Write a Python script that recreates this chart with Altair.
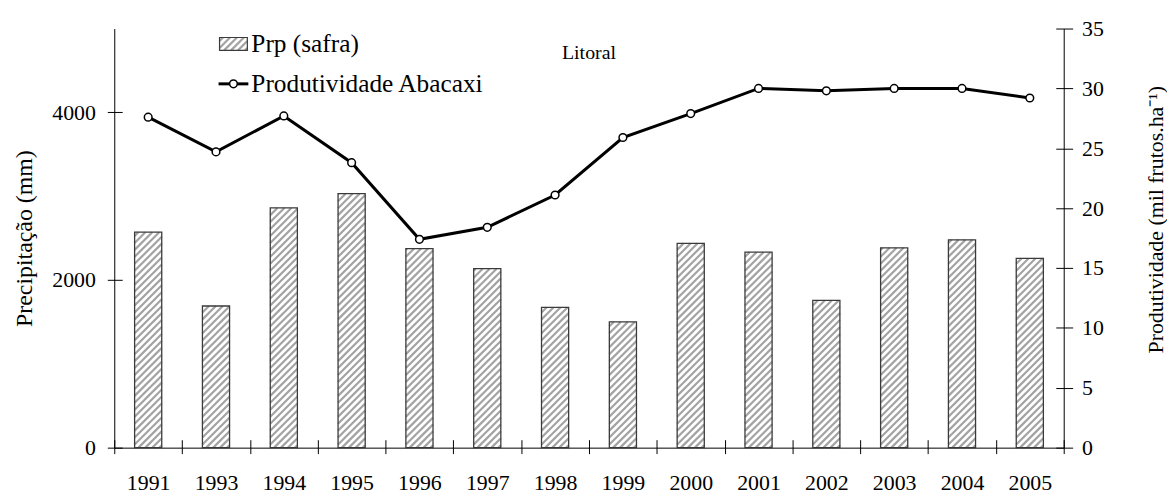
import altair as alt
import numpy as np
import pandas as pd

# ---------------- data ----------------
years = ["1991", "1993", "1994", "1995", "1996", "1997", "1998",
         "1999", "2000", "2001", "2002", "2003", "2004", "2005"]
prp = [2570, 1690, 2860, 3030, 2375, 2135, 1673,
       1500, 2438, 2332, 1756, 2384, 2479, 2257]
produtividade = [27.6, 24.7, 27.7, 23.8, 17.4, 18.4, 21.1,
                 25.9, 27.9, 30.0, 29.8, 30.0, 30.0, 29.2]

chart_title = "Litoral"
legend_labels = ["Prp (safra)", "Produtividade Abacaxi"]
left_title = "Precipitação (mm)"
right_title = "Produtividade (mil frutos.ha⁻¹)"
left_ticks = [0, 2000, 4000]
right_ticks = [0, 5, 10, 15, 20, 25, 30, 35]

# ---------------- style ----------------
FONT = "Liberation Serif"
W, H = 956, 422
PRP_MAX, PROD_MAX = 5000, 35
N = len(years)
BAR_HALF = 0.2
KX = W / N
KY = H / PRP_MAX
STRIPE_PERIOD = 7.0
STRIPE_COLOR = "#a3a3a3"
STRIPE_WIDTH = 2.2
BAR_STROKE = "#3a3a3a"
TICK_FS = 22
TITLE_FS = 24
LEGEND_FS = 25.5


def stripes(w, h, period):
    """diagonal '/' hatch segments inside a w x h box (y upward)"""
    segs = []
    c = -w + period * 0.35
    while c < h:
        xa = max(0.0, -c)
        xb = min(w, h - c)
        if xb - xa > 0.3:
            segs.append((xa, xa + c, xb, xb + c))
        c += period
    return segs


df = pd.DataFrame({"year": years, "prp": prp, "prod": produtividade})
df["xc"] = np.arange(N) + 0.5
df["x0"] = df["xc"] - BAR_HALF
df["x1"] = df["xc"] + BAR_HALF

rows = []
for x0, v in zip(df["x0"], df["prp"]):
    for a, b, c_, d in stripes(2 * BAR_HALF * KX, v * KY, STRIPE_PERIOD):
        rows.append({"sx0": x0 + a / KX, "sy0": b / KY,
                     "sx1": x0 + c_ / KX, "sy1": d / KY})
stripe_df = pd.DataFrame(rows)

# legend swatch (plot pixel coords -> data units)
SW_X, SW_Y, SW_W, SW_H = 106, 9, 28, 13
lrows = []
for a, b, c_, d in stripes(SW_W, SW_H, STRIPE_PERIOD):
    lrows.append({"sx0": (SW_X + a) / KX, "sy0": (H - (SW_Y + SW_H - b)) / KY,
                  "sx1": (SW_X + c_) / KX, "sy1": (H - (SW_Y + SW_H - d)) / KY})
legend_stripe_df = pd.DataFrame(lrows)

one = pd.DataFrame({"k": [0]})

x_scale = alt.Scale(domain=[0, N], nice=False, zero=False)
y_left = alt.Scale(domain=[0, PRP_MAX], nice=False)
y_right = alt.Scale(domain=[0, PROD_MAX], nice=False)

label_expr = "[" + ",".join(f"'{y}'" for y in years) + "][floor(datum.value)]"

x_label_axis = alt.Axis(orient="bottom", values=list(df["xc"]), labelExpr=label_expr,
                        ticks=False, domain=True, domainColor="black", domainWidth=1,
                        grid=False, labelFont=FONT, labelFontSize=TICK_FS,
                        labelColor="black", labelPadding=25, labelOverlap=False,
                        labelFlush=False, title=None)
x_tick_axis = alt.Axis(orient="bottom", values=list(range(N + 1)), labels=False,
                       domain=False, ticks=True, tickSize=14, tickColor="black",
                       tickWidth=1, offset=-8, grid=False, title=None)

y_left_axis = alt.Axis(orient="left", values=left_ticks, format="d", ticks=False,
                       domain=True, domainColor="black", domainWidth=1, grid=False,
                       labelFont=FONT, labelFontSize=TICK_FS, labelColor="black",
                       labelPadding=19, title=left_title, titleFont=FONT,
                       titleFontSize=TITLE_FS, titleFontWeight="normal",
                       titleColor="black", titleAngle=270, titleBaseline="alphabetic",
                       titleAlign="center", titleX=-83, titleY=H / 2)
y_left_tick_axis = alt.Axis(orient="left", values=left_ticks, labels=False,
                            domain=False, ticks=True, tickSize=15, tickColor="black",
                            tickWidth=1, offset=-8, grid=False, title=None)

y_right_axis = alt.Axis(orient="right", values=right_ticks, format="d", ticks=False,
                        domain=True, domainColor="black", domainWidth=1, grid=False,
                        labelFont=FONT, labelFontSize=TICK_FS, labelColor="black",
                        labelPadding=18, title=right_title, titleFont=FONT,
                        titleFontSize=TITLE_FS - 2, titleFontWeight="normal",
                        titleColor="black", titleAngle=270, titleBaseline="alphabetic",
                        titleAlign="center", titleX=99, titleY=192)
y_right_tick_axis = alt.Axis(orient="right", values=right_ticks, labels=False,
                             domain=False, ticks=True, tickSize=17, tickColor="black",
                             tickWidth=1, offset=-8, grid=False, title=None)

base = alt.Chart(df)

bars = base.mark_rect(fill="white", strokeWidth=0).encode(
    x=alt.X("x0:Q", scale=x_scale, axis=x_label_axis),
    x2="x1:Q",
    y=alt.Y("prp:Q", scale=y_left, axis=y_left_axis),
    y2=alt.datum(0),
)

hatch = alt.Chart(stripe_df).mark_rule(color=STRIPE_COLOR, strokeWidth=STRIPE_WIDTH).encode(
    x=alt.X("sx0:Q", scale=x_scale, axis=None),
    x2="sx1:Q",
    y=alt.Y("sy0:Q", scale=y_left, axis=None),
    y2="sy1:Q",
)

outline = base.mark_rect(fillOpacity=0, stroke=BAR_STROKE, strokeWidth=1.3).encode(
    x=alt.X("x0:Q", scale=x_scale, axis=None),
    x2="x1:Q",
    y=alt.Y("prp:Q", scale=y_left, axis=None),
    y2=alt.datum(0),
)

left_ticks_layer = base.mark_point(opacity=0).encode(
    x=alt.X("xc:Q", scale=x_scale, axis=x_tick_axis),
    y=alt.Y("prp:Q", scale=y_left, axis=y_left_tick_axis),
)

line = base.mark_line(color="black", strokeWidth=3).encode(
    x=alt.X("xc:Q", scale=x_scale, axis=None),
    y=alt.Y("prod:Q", scale=y_right, axis=y_right_axis),
)

points = base.mark_point(filled=True, fill="white", stroke="black", strokeWidth=1.5,
                         size=60, opacity=1).encode(
    x=alt.X("xc:Q", scale=x_scale, axis=None),
    y=alt.Y("prod:Q", scale=y_right, axis=None),
)

right_ticks_layer = base.mark_point(opacity=0).encode(
    x=alt.X("xc:Q", scale=x_scale, axis=None),
    y=alt.Y("prod:Q", scale=y_right, axis=y_right_tick_axis),
)

# ---------------- legend & title ----------------
sw_fill = alt.Chart(one).mark_rect(fill="white").encode(
    x=alt.value(SW_X), x2=alt.value(SW_X + SW_W),
    y=alt.value(SW_Y), y2=alt.value(SW_Y + SW_H))
sw_hatch = alt.Chart(legend_stripe_df).mark_rule(color=STRIPE_COLOR, strokeWidth=STRIPE_WIDTH).encode(
    x=alt.X("sx0:Q", scale=x_scale, axis=None),
    x2="sx1:Q",
    y=alt.Y("sy0:Q", scale=y_left, axis=None),
    y2="sy1:Q",
)
sw_outline = alt.Chart(one).mark_rect(fillOpacity=0, stroke=BAR_STROKE, strokeWidth=1.2).encode(
    x=alt.value(SW_X), x2=alt.value(SW_X + SW_W),
    y=alt.value(SW_Y), y2=alt.value(SW_Y + SW_H))
leg_text1 = alt.Chart(one).mark_text(text=legend_labels[0], align="left", baseline="middle",
                                     font=FONT, fontSize=LEGEND_FS, color="black").encode(
    x=alt.value(138), y=alt.value(16))
leg_line = alt.Chart(one).mark_rule(color="black", strokeWidth=3).encode(
    x=alt.value(105), x2=alt.value(135), y=alt.value(55.7))
leg_point = alt.Chart(one).mark_point(filled=True, fill="white", stroke="black",
                                      strokeWidth=1.5, size=60, opacity=1).encode(
    x=alt.value(120), y=alt.value(55.7))
leg_text2 = alt.Chart(one).mark_text(text=legend_labels[1], align="left", baseline="middle",
                                     font=FONT, fontSize=LEGEND_FS, color="black").encode(
    x=alt.value(138), y=alt.value(56))
title_layer = alt.Chart(one).mark_text(text=chart_title, align="center", baseline="middle",
                                       font=FONT, fontSize=20, color="black").encode(
    x=alt.value(W / 2), y=alt.value(25))

chart = alt.layer(
    bars, hatch, outline, left_ticks_layer,
    line, points, right_ticks_layer,
    sw_fill, sw_hatch, sw_outline, leg_text1, leg_line, leg_point, leg_text2,
    title_layer,
).resolve_scale(y="independent").resolve_axis(x="independent", y="independent").properties(
    width=W, height=H,
    autosize=alt.AutoSizeParams(type="none"),
    padding={"left": 107, "top": 19, "right": 104, "bottom": 46},
    background="white",
).configure_view(stroke=None)

chart.save("out.html", embed_options={"renderer": "svg", "actions": False})
